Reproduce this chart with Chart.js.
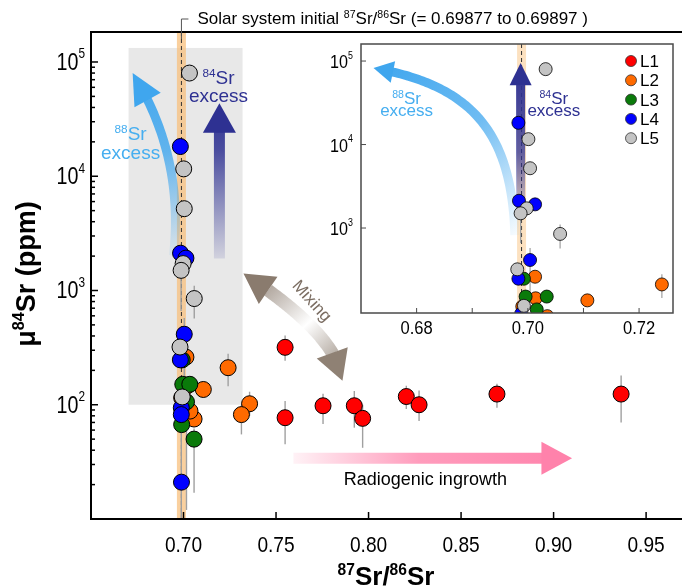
<!DOCTYPE html>
<html>
<head>
<meta charset="utf-8">
<script src="https://cdn.jsdelivr.net/npm/chart.js@4.4.1/dist/chart.umd.min.js"></script>
<style>
  body { margin: 0; background: #fff; }
  #wrap { position: relative; width: 682px; height: 587px; overflow: hidden; }
  #main { position: absolute; left: 0; top: 0; }
  #inset { position: absolute; left: 310px; top: 36px; }
</style>
</head>
<body>
<div id="wrap">
  <canvas id="main" width="682" height="587"></canvas>
  <canvas id="inset" width="372" height="309"></canvas>
</div>
<script>
// series: 87Sr/86Sr (x), mu84Sr in ppm (y), error bar [low, high] in ppm
const seriesNames = ["L1", "L2", "L3", "L4", "L5"];
const seriesColors = ["#ff0000", "#ff6a00", "#0a7a0a", "#0000ff", "#c4c4c4"];

const l1X = [0.7549, 0.7549, 0.7754, 0.7923, 0.7968, 0.8204, 0.8273, 0.8694, 0.9365];
const l1Y = [318, 77, 98, 98, 76, 118, 100, 124, 124];
const l1Err = [[243, 403], [45, 108], [68, 125], [63, 132], [42, 100], [92, 147], [72, 133], [94, 153], [70, 180]];

const l2X = [0.7013, 0.7241, 0.7014, 0.7107, 0.6990, 0.7357, 0.7313, 0.7057, 0.7035];
const l2Y = [261, 211, 144, 136, 115, 102, 82, 75, 88];
const l2Err = [null, [145, 280], null, null, null, [80, 130], [55, 100], null, null];

const l3X = [0.6993, 0.6996, 0.7034, 0.7016, 0.6990, 0.7057];
const l3Y = [247, 151, 151, 106, 67, 50];
const l3Err = [null, null, null, [12, 160], null, [17, 62]];

const l4X = [0.6983, 0.6984, 0.7013, 0.7004, 0.6983, 0.6988, 0.6988, 0.6989];
const l4Y = [18200, 2120, 1920, 414, 247, 94, 82, 21];
const l4Err = [null, null, null, [166, 575], null, null, [10, 130], null];

const l5X = [0.7032, 0.7001, 0.7004, 0.6998, 0.6987, 0.7058, 0.6981, 0.6993];
const l5Y = [80000, 11600, 5200, 1720, 1500, 850, 320, 117];
const l5Err = [null, null, null, null, [660, 1600], [570, 1100], null, null];

// solar system initial ratio range
const solarRange = [0.69877, 0.69897];

// tick values
const mainXTicks = [0.70, 0.75, 0.80, 0.85, 0.90, 0.95];
const mainYTicks = [100, 1000, 10000, 100000];
const insetXTicks = [0.68, 0.70, 0.72];
const insetXMinor = [0.69, 0.71];
const insetYTicks = [1000, 10000, 100000];

// annotation shapes, in data units (x ratio, y ppm)
const boxX = [0.6703, 0.7319], boxY = [100, 132700];
const excess88Main = [[0.6946, 2028], [0.7005, 14960], [0.6725, 80200]];
const excess84Main = [[0.7194, 1910], [0.7194, 43600]];
const mixingArc = [[0.7324, 1410], [0.7834, 408], [0.7859, 162]];
const ingrowth = [[0.7594, 34], [0.9100, 34]];
const excess88Inset = [[0.69766, 824], [0.69712, 14930], [0.68955, 51600], [0.67225, 82400]];
const excess84Inset = [[0.6987, 1556], [0.6987, 94700]];

const allX = [l1X, l2X, l3X, l4X, l5X];
const allY = [l1Y, l2Y, l3Y, l4Y, l5Y];
const allErr = [l1Err, l2Err, l3Err, l4Err, l5Err];

const FAM = "'Liberation Sans', Arial, Helvetica, sans-serif";

function makeDatasets(r, bw) {
  return seriesNames.map((name, i) => ({
    label: name,
    data: allX[i].map((x, k) => ({ x: x, y: allY[i][k] })),
    err: allErr[i],
    backgroundColor: seriesColors[i],
    borderColor: "#000",
    borderWidth: bw,
    pointRadius: r,
    pointHoverRadius: r,
    order: 4 - i,
    clip: 0,
  }));
}

// text with superscripts: parts = [[text, isSup], ...], y = baseline
function rich(ctx, parts, x, y, o) {
  const fs = o.size, ss = fs * (o.supScale || 0.62), wt = o.bold ? "bold " : "";
  const sx = o.sx || 1, raise = fs * (o.raise || 0.36);
  const widths = parts.map(p => {
    ctx.font = wt + (p[1] ? ss : fs) + "px " + FAM;
    return ctx.measureText(p[0]).width * sx;
  });
  const total = widths.reduce((a, b) => a + b, 0);
  let cx = o.align === "right" ? x - total : o.align === "center" ? x - total / 2 : x;
  ctx.save();
  ctx.fillStyle = o.color || "#000";
  ctx.textBaseline = "alphabetic";
  ctx.textAlign = "left";
  parts.forEach((p, i) => {
    ctx.font = wt + (p[1] ? ss : fs) + "px " + FAM;
    ctx.save();
    ctx.translate(cx, y - (p[1] ? raise : 0));
    ctx.scale(sx, 1);
    ctx.fillText(p[0], 0, 0);
    ctx.restore();
    cx += widths[i];
  });
  ctx.restore();
}

function toPx(chart, list) {
  const xs = chart.scales.x, ys = chart.scales.y;
  return list.map(p => ({ x: xs.getPixelForValue(p[0]), y: ys.getPixelForValue(p[1]) }));
}

function curve(c) {
  const out = [], n = 100;
  for (let i = 0; i <= n; i++) {
    const t = i / n, u = 1 - t;
    let x, y;
    if (c.length === 4) {
      x = u * u * u * c[0].x + 3 * u * u * t * c[1].x + 3 * u * t * t * c[2].x + t * t * t * c[3].x;
      y = u * u * u * c[0].y + 3 * u * u * t * c[1].y + 3 * u * t * t * c[2].y + t * t * t * c[3].y;
    } else if (c.length === 3) {
      x = u * u * c[0].x + 2 * u * t * c[1].x + t * t * c[2].x;
      y = u * u * c[0].y + 2 * u * t * c[1].y + t * t * c[2].y;
    } else {
      x = u * c[0].x + t * c[1].x;
      y = u * c[0].y + t * c[1].y;
    }
    out.push({ x, y });
  }
  return out;
}

function backIndex(path, len) {
  const tip = path[path.length - 1];
  let i = path.length - 1;
  while (i > 0 && Math.hypot(path[i].x - tip.x, path[i].y - tip.y) < len) i--;
  return i;
}

function head(ctx, tip, base, w, color) {
  const a = Math.atan2(tip.y - base.y, tip.x - base.x);
  const nx = -Math.sin(a) * w / 2, ny = Math.cos(a) * w / 2;
  ctx.beginPath();
  ctx.moveTo(tip.x, tip.y);
  ctx.lineTo(base.x + nx, base.y + ny);
  ctx.lineTo(base.x - nx, base.y - ny);
  ctx.closePath();
  ctx.fillStyle = color;
  ctx.fill();
}

function arrow(ctx, path, o) {
  const end = backIndex(path, o.hl);
  let start = 0;
  if (o.both) start = path.length - 1 - backIndex(path.slice().reverse(), o.hl);
  ctx.save();
  ctx.beginPath();
  ctx.moveTo(path[start].x, path[start].y);
  for (let i = start + 1; i <= Math.min(end + 1, path.length - 1); i++) ctx.lineTo(path[i].x, path[i].y);
  ctx.lineWidth = o.w;
  ctx.strokeStyle = o.grad;
  ctx.lineCap = "butt";
  ctx.lineJoin = "round";
  ctx.stroke();
  head(ctx, path[path.length - 1], path[end], o.hw, o.head);
  if (o.both) head(ctx, path[0], path[start], o.hw, o.head2 || o.head);
  ctx.restore();
}

function grad(ctx, p0, p1, stops) {
  const g = ctx.createLinearGradient(p0.x, p0.y, p1.x, p1.y);
  stops.forEach(s => g.addColorStop(s[0], s[1]));
  return g;
}

function errorBars(chart, w) {
  const ctx = chart.ctx, ys = chart.scales.y;
  ctx.save();
  ctx.strokeStyle = "#a0a0a0";
  ctx.lineWidth = w;
  chart.data.datasets.forEach((ds, i) => {
    const meta = chart.getDatasetMeta(i);
    ds.err.forEach((e, k) => {
      if (!e) return;
      const x = meta.data[k].x;
      ctx.beginPath();
      ctx.moveTo(x, ys.getPixelForValue(e[0]));
      ctx.lineTo(x, ys.getPixelForValue(e[1]));
      ctx.stroke();
    });
  });
  ctx.restore();
}

function solarBand(chart, w, color) {
  const ctx = chart.ctx, a = chart.chartArea;
  const sx = chart.scales.x.getPixelForValue((solarRange[0] + solarRange[1]) / 2);
  ctx.save();
  ctx.fillStyle = color;
  ctx.fillRect(sx - w / 2, a.top, w, a.bottom - a.top);
  ctx.setLineDash([4, 3]);
  ctx.strokeStyle = "#333";
  ctx.lineWidth = 1;
  ctx.beginPath();
  ctx.moveTo(sx, a.top);
  ctx.lineTo(sx, a.bottom);
  ctx.stroke();
  ctx.restore();
  return sx;
}

const mainDecor = {
  id: "mainDecor",
  beforeDatasetsDraw(chart) {
    const ctx = chart.ctx, xs = chart.scales.x, ys = chart.scales.y;
    const X = v => xs.getPixelForValue(v), Y = v => ys.getPixelForValue(v);
    ctx.fillStyle = "#e8e8e8";
    ctx.fillRect(X(boxX[0]), Y(boxY[1]), X(boxX[1]) - X(boxX[0]), Y(boxY[0]) - Y(boxY[1]));
    solarBand(chart, 9, "rgba(248,190,120,0.72)");

    // 88Sr excess (curved, light blue)
    let p = curve(toPx(chart, excess88Main));
    arrow(ctx, p, { w: 9, hl: 30, hw: 30, head: "#3fa6ee",
      grad: grad(ctx, p[0], p[p.length - 1], [[0, "rgba(63,166,238,0.08)"], [0.55, "rgba(63,166,238,0.8)"], [1, "#3fa6ee"]]) });
    // 84Sr excess (straight, navy)
    p = curve(toPx(chart, excess84Main));
    arrow(ctx, p, { w: 11, hl: 28, hw: 33, head: "#2e3192",
      grad: grad(ctx, p[0], p[p.length - 1], [[0, "rgba(46,49,146,0.12)"], [0.7, "rgba(46,49,146,0.85)"], [1, "#2e3192"]]) });
    // mixing (double headed)
    p = curve(toPx(chart, mixingArc));
    arrow(ctx, p, { w: 13, hl: 29, hw: 33, both: true, head: "#8f8174", head2: "#8a7b6e",
      grad: grad(ctx, p[0], p[p.length - 1], [[0, "#8a7b6e"], [0.55, "#ffffff"], [1, "#8f8174"]]) });
    // radiogenic ingrowth
    p = curve(toPx(chart, ingrowth));
    arrow(ctx, p, { w: 11, hl: 30, hw: 33, head: "#ff82ab",
      grad: grad(ctx, p[0], p[p.length - 1], [[0, "#fff2f6"], [0.45, "#ff9cbc"], [1, "#ff82ab"]]) });

    // labels
    rich(ctx, [["88", 1], ["Sr", 0]], X(0.6714), Y(23800) + 7, { size: 19, align: "center", color: "#46aef0" });
    rich(ctx, [["excess", 0]], X(0.6714), Y(23800) + 26, { size: 19, align: "center", color: "#46aef0" });
    rich(ctx, [["84", 1], ["Sr", 0]], X(0.7189), Y(73800) + 7, { size: 19, align: "center", color: "#2e3192" });
    rich(ctx, [["excess", 0]], X(0.7189), Y(73800) + 25, { size: 19, align: "center", color: "#2e3192" });
    ctx.save();
    ctx.translate(X(0.7697), Y(817));
    ctx.rotate(48 * Math.PI / 180);
    rich(ctx, [["Mixing", 0]], 0, 6, { size: 17, align: "center", color: "#7b6d62" });
    ctx.restore();
    rich(ctx, [["Radiogenic ingrowth", 0]], X(0.8307), Y(22.9) + 7, { size: 18, align: "center", color: "#000" });

    errorBars(chart, 1.4);
  },
  afterDraw(chart) {
    const ctx = chart.ctx, a = chart.chartArea, xs = chart.scales.x, ys = chart.scales.y;
    ctx.save();
    ctx.strokeStyle = "#000";
    ctx.lineWidth = 2;
    ctx.beginPath();
    ctx.moveTo(a.right + 2, a.top);
    ctx.lineTo(a.left, a.top);
    ctx.lineTo(a.left, a.bottom);
    ctx.lineTo(a.right + 2, a.bottom);
    ctx.stroke();
    ctx.lineWidth = 1.5;
    // x ticks (inward)
    mainXTicks.forEach(v => {
      const x = xs.getPixelForValue(v);
      ctx.beginPath(); ctx.moveTo(x, a.bottom); ctx.lineTo(x, a.bottom - 7); ctx.stroke();
      rich(ctx, [[v.toFixed(2), 0]], x, a.bottom + 33, { size: 22, sx: 0.87, align: "center" });
    });
    // y ticks, major + minor
    for (let d = 1; d <= 5; d++) {
      for (let m = 1; m <= 9; m++) {
        const v = m * Math.pow(10, d);
        if (v <= ys.min || v >= ys.max) continue;
        const y = ys.getPixelForValue(v);
        ctx.beginPath(); ctx.moveTo(a.left, y); ctx.lineTo(a.left + (m === 1 ? 7 : 4), y); ctx.stroke();
      }
    }
    mainYTicks.forEach(v => {
      const y = ys.getPixelForValue(v);
      rich(ctx, [["10", 0], [String(Math.round(Math.log10(v))), 1]], a.left - 6, y + 8,
        { size: 24, sx: 0.82, align: "right", supScale: 0.6, raise: 0.48 });
    });
    // axis titles
    ctx.save();
    ctx.translate(35, 274);
    ctx.rotate(-Math.PI / 2);
    rich(ctx, [["\u03bc", 0], ["84", 1], ["Sr (ppm)", 0]], 0, 0, { size: 27, bold: true, align: "center", supScale: 0.6, raise: 0.4 });
    ctx.restore();
    rich(ctx, [["87", 1], ["Sr/", 0], ["86", 1], ["Sr", 0]], 386, 585, { size: 26, bold: true, align: "center", supScale: 0.6, raise: 0.4 });

    // solar system initial bracket + text
    const sx = xs.getPixelForValue((solarRange[0] + solarRange[1]) / 2);
    ctx.strokeStyle = "#555";
    ctx.lineWidth = 1;
    ctx.beginPath();
    ctx.moveTo(sx, a.top + 7); ctx.lineTo(sx, 19); ctx.lineTo(sx + 7, 19);
    ctx.stroke();
    rich(ctx, [["Solar system initial ", 0], ["87", 1], ["Sr/", 0], ["86", 1], ["Sr (= 0.69877 to 0.69897 )", 0]],
      sx + 16, 24, { size: 17, align: "left" });
    ctx.restore();
  },
};

const insetDecor = {
  id: "insetDecor",
  beforeDatasetsDraw(chart) {
    const ctx = chart.ctx, a = chart.chartArea, xs = chart.scales.x, ys = chart.scales.y;
    const X = v => xs.getPixelForValue(v), Y = v => ys.getPixelForValue(v);
    ctx.save();
    ctx.fillStyle = "#fff";
    ctx.fillRect(a.left, a.top, a.right - a.left, a.bottom - a.top);
    ctx.beginPath();
    ctx.rect(a.left, a.top, a.right - a.left, a.bottom - a.top);
    ctx.clip();
    solarBand(chart, 9, "rgba(250,205,150,0.6)");
    let p = curve(toPx(chart, excess88Inset));
    arrow(ctx, p, { w: 9, hl: 19, hw: 22, head: "#3fa6ee",
      grad: grad(ctx, p[0], p[p.length - 1], [[0, "rgba(63,166,238,0.05)"], [0.5, "rgba(63,166,238,0.75)"], [1, "#3fa6ee"]]) });
    p = curve(toPx(chart, excess84Inset));
    arrow(ctx, p, { w: 9, hl: 21, hw: 22, head: "#2e3192",
      grad: grad(ctx, p[0], p[p.length - 1], [[0, "rgba(46,49,146,0.15)"], [0.4, "rgba(46,49,146,0.75)"], [1, "#2e3192"]]) });
    rich(ctx, [["88", 1], ["Sr", 0]], X(0.6782), Y(31400) + 1, { size: 17, align: "center", color: "#46aef0" });
    rich(ctx, [["excess", 0]], X(0.6782), Y(31400) + 13, { size: 17, align: "center", color: "#46aef0" });
    rich(ctx, [["84", 1], ["Sr", 0]], X(0.70468), Y(31400) + 1, { size: 17, align: "center", color: "#2e3192" });
    rich(ctx, [["excess", 0]], X(0.70468), Y(31400) + 13, { size: 17, align: "center", color: "#2e3192" });
    errorBars(chart, 1.2);
    ctx.restore();
  },
  afterDraw(chart) {
    const ctx = chart.ctx, a = chart.chartArea, xs = chart.scales.x, ys = chart.scales.y;
    ctx.save();
    ctx.strokeStyle = "#4a4a4a";
    ctx.lineWidth = 1.5;
    ctx.strokeRect(a.left, a.top, a.right - a.left, a.bottom - a.top);
    ctx.lineWidth = 1;
    insetXTicks.concat(insetXMinor).forEach(v => {
      const x = xs.getPixelForValue(v);
      ctx.beginPath(); ctx.moveTo(x, a.bottom); ctx.lineTo(x, a.bottom - 5); ctx.stroke();
    });
    insetXTicks.forEach(v => {
      rich(ctx, [[v.toFixed(2), 0]], xs.getPixelForValue(v), a.bottom + 21, { size: 18, sx: 0.92, align: "center" });
    });
    insetYTicks.forEach(v => {
      const y = ys.getPixelForValue(v);
      ctx.beginPath(); ctx.moveTo(a.left, y); ctx.lineTo(a.left + 5, y); ctx.stroke();
      rich(ctx, [["10", 0], [String(Math.round(Math.log10(v))), 1]], a.left - 8, y + 7,
        { size: 19, sx: 0.85, align: "right", supScale: 0.55, raise: 0.5 });
    });
    // legend
    seriesNames.forEach((name, i) => {
      const cy = a.top + 17 + i * 19.3, cx = a.right - 42;
      ctx.beginPath();
      ctx.arc(cx, cy, 5.5, 0, Math.PI * 2);
      ctx.fillStyle = seriesColors[i];
      ctx.fill();
      ctx.strokeStyle = "#333";
      ctx.lineWidth = 0.8;
      ctx.stroke();
      rich(ctx, [[name, 0]], cx + 9, cy + 6, { size: 17, align: "left" });
    });
    ctx.restore();
  },
};

Chart.defaults.font.family = FAM;

new Chart(document.getElementById("main"), {
  type: "scatter",
  data: { datasets: makeDatasets(8, 1) },
  options: {
    responsive: false,
    animation: false,
    events: [],
    layout: { autoPadding: false, padding: { left: 91, top: 32, right: 0, bottom: 68 } },
    plugins: { legend: { display: false }, tooltip: { enabled: false } },
    scales: {
      x: { type: "linear", display: false, min: 0.65, max: 0.9694, bounds: "data" },
      y: { type: "logarithmic", display: false, min: 10, max: 183000 },
    },
  },
  plugins: [mainDecor],
});

new Chart(document.getElementById("inset"), {
  type: "scatter",
  data: { datasets: makeDatasets(6.5, 0.8) },
  options: {
    responsive: false,
    animation: false,
    events: [],
    layout: { autoPadding: false, padding: { left: 51, top: 8, right: 9, bottom: 32 } },
    plugins: { legend: { display: false }, tooltip: { enabled: false } },
    scales: {
      x: { type: "linear", display: false, min: 0.67, max: 0.7261, bounds: "data" },
      y: { type: "logarithmic", display: false, min: 96, max: 160000 },
    },
  },
  plugins: [insetDecor],
});
</script>
</body>
</html>
